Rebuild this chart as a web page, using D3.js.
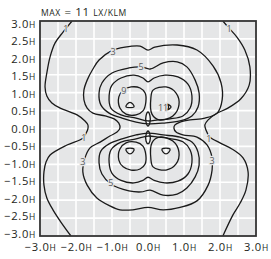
<!DOCTYPE html>
<html><head><meta charset="utf-8">
<script src="https://cdn.jsdelivr.net/npm/d3@7"></script>
<style>body{margin:0;background:#fff}</style>
</head><body>
<svg id="chart" width="271" height="259"></svg>
<script>
// ---- data (units of mounting height H) ----
const xTicks = [-3, -2, -1, 0, 1, 2, 3];
const yTicks = [-3, -2.5, -2, -1.5, -1, -0.5, 0, 0.5, 1, 1.5, 2, 2.5, 3];
const gridValues = [-3, -2.5, -2, -1.5, -1, -0.5, 0, 0.5, 1, 1.5, 2, 2.5, 3];
const titleParts = ["MAX", " = 11 ", "LX/KLM"];

// open isolux lines (run off the plot)
const c1Left = [[-2.11,3.0],[-2.36,2.69],[-2.58,2.39],[-2.72,2.0],[-2.81,1.55],[-2.86,1.16],[-2.81,0.91],[-2.67,0.71],[-2.44,0.57],[-1.97,0.38],[-1.75,0.21],[-1.67,0.1],[-1.67,-0.01],[-1.72,-0.13],[-1.81,-0.27],[-2.25,-0.46],[-2.72,-0.74],[-2.83,-0.93],[-2.89,-1.21],[-2.89,-1.58],[-2.81,-1.94],[-2.64,-2.27],[-2.42,-2.61],[-2.14,-3.0]];
const c1Right = [[2.08,3.0],[2.25,2.8],[2.47,2.55],[2.69,2.19],[2.83,1.72],[2.81,1.21],[2.58,0.83],[2.22,0.57],[1.89,0.41],[1.67,0.24],[1.58,0.1],[1.61,-0.04],[1.72,-0.24],[2.0,-0.4],[2.33,-0.57],[2.64,-0.82],[2.78,-1.21],[2.72,-1.72],[2.56,-2.08],[2.36,-2.41],[2.08,-3.0]];
// closed isolux lines
const c3 = [[-0.78,0.01],[-0.81,0.15],[-0.94,0.27],[-1.19,0.35],[-1.53,0.43],[-1.69,0.57],[-1.78,0.8],[-1.78,1.07],[-1.69,1.35],[-1.53,1.66],[-1.36,1.91],[-1.03,2.16],[-0.64,2.27],[-0.22,2.3],[0,2.19],[0.19,2.27],[0.81,2.33],[1.36,2.19],[1.81,1.74],[2.03,1.27],[2.06,0.8],[1.92,0.43],[1.58,0.29],[1.17,0.24],[0.89,0.18],[0.75,0.1],[0.72,0.01],[0.78,-0.1],[0.97,-0.18],[1.36,-0.24],[1.64,-0.46],[1.78,-0.82],[1.78,-1.16],[1.67,-1.58],[1.36,-2.02],[0.89,-2.2],[0.42,-2.27],[0,-2.2],[-0.42,-2.27],[-0.78,-2.27],[-1.06,-2.16],[-1.42,-1.94],[-1.69,-1.58],[-1.81,-1.21],[-1.75,-0.82],[-1.61,-0.54],[-1.33,-0.38],[-1.06,-0.21],[-0.86,-0.1]];
const c5Upper = [[0,0.13],[-0.33,0.18],[-0.72,0.29],[-1.08,0.43],[-1.31,0.66],[-1.36,0.99],[-1.28,1.27],[-1.0,1.55],[-0.53,1.69],[-0.19,1.72],[0.06,1.66],[0.42,1.83],[0.81,1.86],[1.08,1.72],[1.31,1.35],[1.42,0.99],[1.39,0.6],[1.22,0.35],[0.89,0.21],[0.42,0.15]];
const c5Lower = [[0,-0.13],[0.42,-0.18],[0.89,-0.24],[1.22,-0.38],[1.39,-0.66],[1.42,-1.02],[1.31,-1.35],[1.08,-1.66],[0.81,-1.83],[0.42,-1.86],[0.06,-1.72],[-0.19,-1.77],[-0.53,-1.74],[-1.03,-1.55],[-1.28,-1.27],[-1.36,-0.96],[-1.31,-0.63],[-1.08,-0.43],[-0.72,-0.29],[-0.33,-0.18]];
const c7Upper = [[0,0.21],[-0.33,0.29],[-0.75,0.38],[-1.03,0.57],[-1.08,0.91],[-1.0,1.21],[-0.75,1.41],[-0.39,1.49],[-0.14,1.41],[0,1.3],[0.17,1.41],[0.47,1.49],[0.83,1.44],[1.11,1.24],[1.22,0.91],[1.17,0.57],[0.97,0.35],[0.61,0.27],[0.28,0.24]];
const c7Lower = [[0,-0.21],[-0.33,-0.29],[-0.75,-0.38],[-1.03,-0.6],[-1.08,-0.95],[-1.0,-1.25],[-0.75,-1.45],[-0.39,-1.52],[-0.14,-1.45],[0,-1.36],[0.17,-1.45],[0.47,-1.52],[0.83,-1.47],[1.11,-1.27],[1.22,-0.95],[1.17,-0.6],[0.97,-0.37],[0.61,-0.28],[0.28,-0.24]];
const c9UL = [[-0.81,0.88],[-0.69,1.07],[-0.47,1.16],[-0.22,1.13],[-0.08,0.99],[-0.06,0.74],[-0.14,0.49],[-0.33,0.38],[-0.61,0.4],[-0.78,0.57]];
const c9UR = [[0.08,0.85],[0.14,1.07],[0.5,1.16],[0.78,0.99],[0.86,0.66],[0.69,0.35],[0.31,0.24],[0.11,0.4]];
const c9LL = [[-0.81,-0.88],[-0.69,-1.07],[-0.47,-1.16],[-0.22,-1.13],[-0.08,-0.99],[-0.06,-0.74],[-0.14,-0.49],[-0.33,-0.38],[-0.61,-0.4],[-0.78,-0.57]];
const c9LR = [[0.08,-0.85],[0.14,-1.07],[0.5,-1.16],[0.78,-0.99],[0.86,-0.66],[0.69,-0.35],[0.31,-0.24],[0.11,-0.4]];
const c11UL = [[-0.61,0.6],[-0.58,0.68],[-0.5,0.73],[-0.42,0.68],[-0.39,0.6]];
const c11UR = [[0.54,0.68],[0.64,0.6],[0.54,0.52],[0.57,0.6]];
const c11LL = [[-0.61,-0.57],[-0.39,-0.57],[-0.42,-0.66],[-0.5,-0.71],[-0.58,-0.66]];
const c11LR = [[0.39,-0.57],[0.61,-0.57],[0.58,-0.66],[0.5,-0.71],[0.42,-0.66]];
const ellUpper = [[0,0.46],[0.055,0.35],[0.055,0.18],[0,0.07],[-0.055,0.18],[-0.055,0.35]];
const ellLower = [[0,-0.07],[0.055,-0.18],[0.055,-0.35],[0,-0.43],[-0.055,-0.35],[-0.055,-0.18]];

const labelText = ["1","1","3","5","9","11","1","3","5","1","3"];
const labelX =    [-2.28, 2.25, -0.97, -0.19, -0.67, 0.42, -1.78, -1.81, -1.03, 1.69, 1.78];
const labelY =    [2.78, 2.8, 2.16, 1.72, 1.07, 0.6, -0.24, -0.93, -1.52, -0.27, -0.88];

// ---- drawing ----
const svg = d3.select("#chart");
const x = d3.scaleLinear().domain([-3, 3]).range([40, 256]);
const y = d3.scaleLinear().domain([-3, 3]).range([236, 21]);
// tick labels sit slightly inside the outer grid lines
const yLab = d3.scaleLinear().domain([-3, 3]).range([233.5, 23.5]);
const FONT = "'Open Sans', sans-serif";
const BG = "#e5e6e7";

svg.append("rect").attr("x", x(-3)).attr("y", y(3))
  .attr("width", x(3) - x(-3)).attr("height", y(-3) - y(3)).attr("fill", BG);

svg.append("clipPath").attr("id", "clip").append("rect")
  .attr("x", x(-3)).attr("y", y(3)).attr("width", x(3) - x(-3)).attr("height", y(-3) - y(3));

const grid = svg.append("g");
grid.selectAll("line.v").data(gridValues).join("line")
  .attr("x1", d => x(d)).attr("x2", d => x(d)).attr("y1", y(3)).attr("y2", y(-3))
  .attr("stroke", "#fff").attr("stroke-width", 1.6);
grid.selectAll("line.h").data(gridValues).join("line")
  .attr("y1", d => y(d)).attr("y2", d => y(d)).attr("x1", x(-3)).attr("x2", x(3))
  .attr("stroke", "#fff").attr("stroke-width", 1.6);

const openLine = d3.line().x(d => x(d[0])).y(d => y(d[1])).curve(d3.curveCatmullRom.alpha(0.5));
const closedLine = d3.line().x(d => x(d[0])).y(d => y(d[1])).curve(d3.curveCatmullRomClosed.alpha(0.5));

const lines = svg.append("g").attr("clip-path", "url(#clip)")
  .attr("fill", "none").attr("stroke", "#1a1a1a").attr("stroke-width", 1.3).attr("stroke-linejoin", "round");
[c1Left, c1Right].forEach(d => lines.append("path").attr("d", openLine(d)));
[c3, c5Upper, c5Lower, c7Upper, c7Lower, c9UL, c9UR, c9LL, c9LR, c11UL, c11UR, c11LL, c11LR, ellUpper, ellLower]
  .forEach(d => lines.append("path").attr("d", closedLine(d)));

// contour labels
svg.append("g").selectAll("text").data(labelText).join("text")
  .attr("x", (d, i) => x(labelX[i])).attr("y", (d, i) => y(labelY[i]))
  .attr("text-anchor", "middle").attr("dominant-baseline", "central")
  .attr("font-family", FONT).attr("font-size", 9).attr("fill", "#58595b")
  .attr("stroke", BG).attr("stroke-width", 2.5).attr("paint-order", "stroke")
  .text(d => d);

// frame
svg.append("rect").attr("x", x(-3)).attr("y", y(3))
  .attr("width", x(3) - x(-3)).attr("height", y(-3) - y(3))
  .attr("fill", "none").attr("stroke", "#333").attr("stroke-width", 1.8);

// axes
const fmt = d3.format(".1f");
const xAxis = d3.axisBottom(x).tickValues(xTicks).tickSize(0).tickPadding(7).tickFormat(d => fmt(d));
const yAxis = d3.axisLeft(yLab).tickValues(yTicks).tickSize(0).tickPadding(4).tickFormat(d => fmt(d));
const gx = svg.append("g").attr("transform", `translate(0,${y(-3)})`).call(xAxis);
const gy = svg.append("g").attr("transform", `translate(${x(-3)},0)`).call(yAxis);
[gx, gy].forEach(g => {
  g.select(".domain").remove();
  g.selectAll("text").attr("font-family", FONT).attr("font-size", 11.2)
    .attr("letter-spacing", 0.7).attr("fill", "#231f20")
    .each(function () {
      const t = d3.select(this);
      const s = t.text();
      t.text(s);
      t.append("tspan").attr("font-size", 8.5).text("H");
    });
});
gx.selectAll("text").attr("dy", "0.71em");

// title
const title = svg.append("text").attr("x", 41).attr("y", 16)
  .attr("font-family", FONT).attr("fill", "#231f20").attr("letter-spacing", 0.6);
titleParts.forEach((p, i) => title.append("tspan").attr("font-size", i === 1 ? 11.5 : 8.6).text(p));
</script>
</body></html>
